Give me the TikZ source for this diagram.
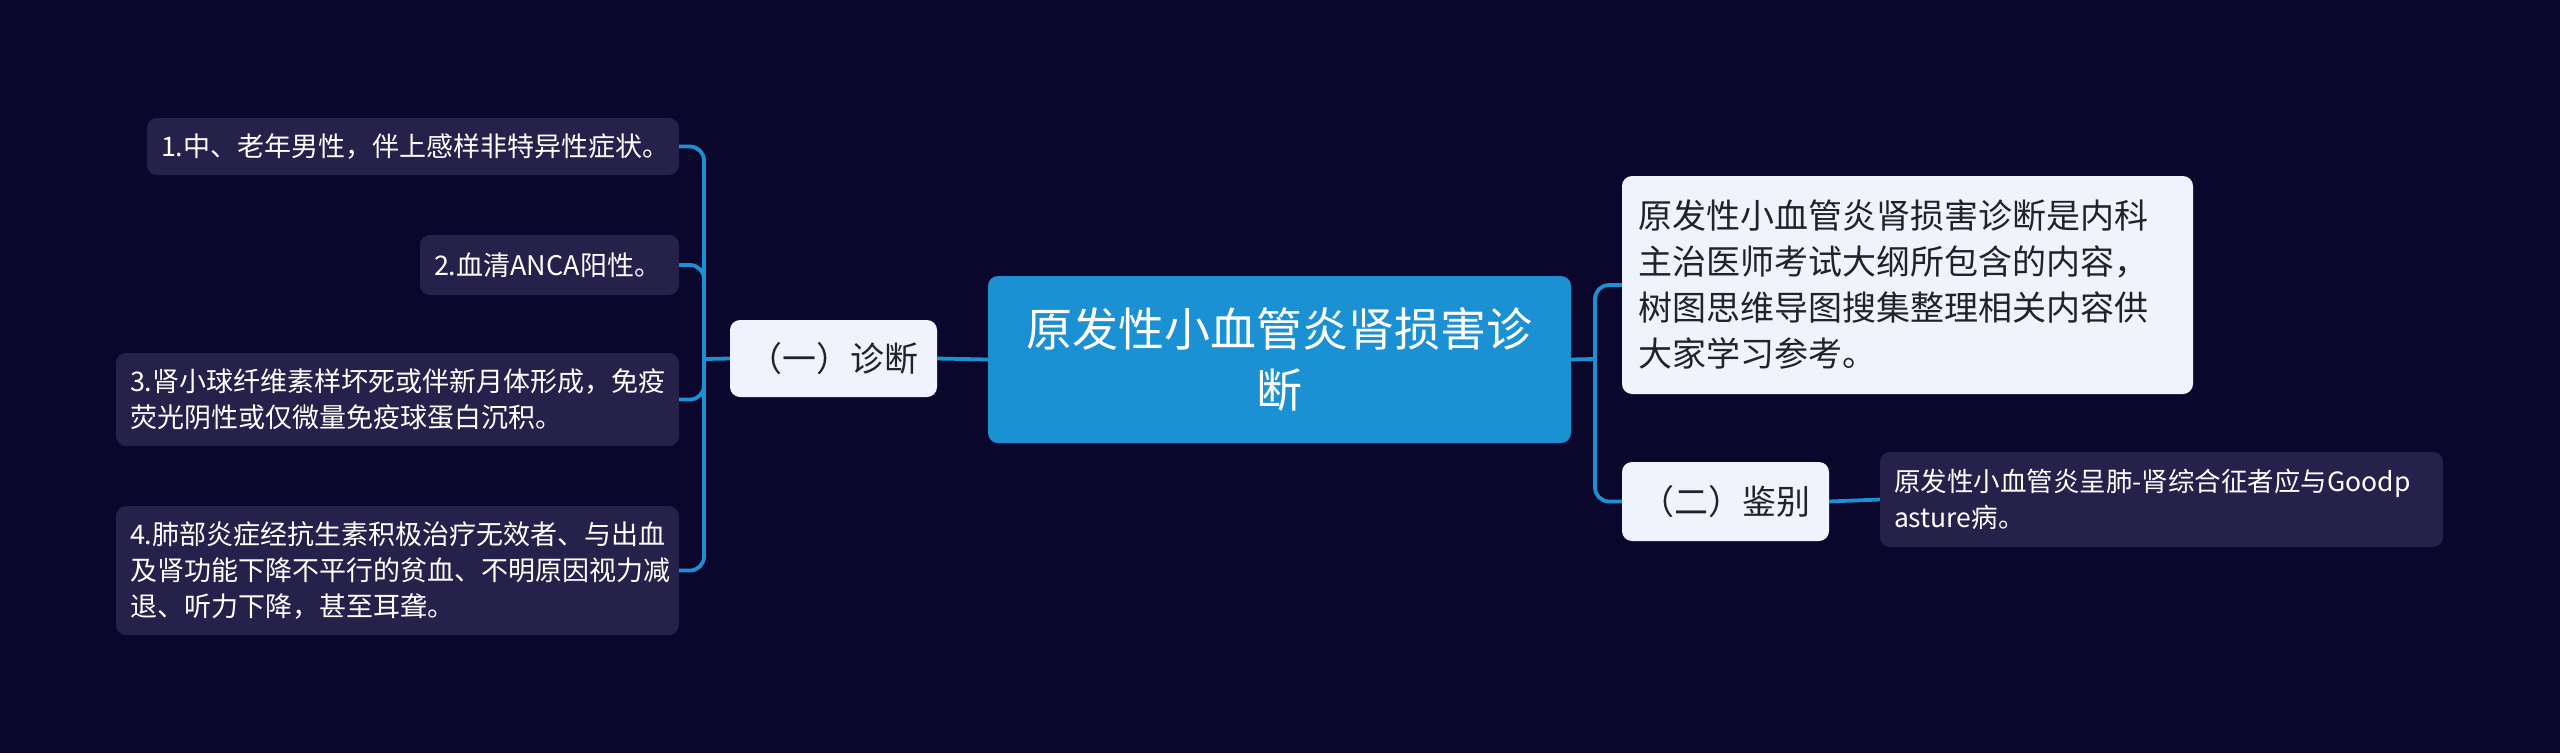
\documentclass[tikz,border=0pt]{standalone}
\usepackage{fontspec}
\setmainfont{Noto Sans CJK SC}
\definecolor{bgc}{RGB}{11,7,44}
\definecolor{leafc}{RGB}{38,33,74}
\definecolor{lightc}{RGB}{238,243,253}
\definecolor{bluec}{RGB}{27,144,210}
\definecolor{darkt}{RGB}{34,34,40}
\begin{document}
\begin{tikzpicture}[x=1pt,y=-1pt,
  box/.style={anchor=north west, rounded corners=10pt, inner ysep=0pt, outer sep=0pt},
  leaf/.style={box, fill=leafc, text=white, inner xsep=14pt, align=left,
    font=\fontsize{27}{36}\selectfont},
  light/.style={box, fill=lightc, text=darkt},
  conn/.style={draw=bluec, line width=3.8pt, rounded corners=14pt}]
\fill[bgc] (0,0) rectangle (2560,753);
\useasboundingbox (0,0) rectangle (2560,753);

% center
\node[box, fill=bluec, text=white, align=center, minimum width=583pt, minimum height=167pt,
  font=\fontsize{46}{61}\selectfont] (c) at (988,276) {原发性小血管炎肾损害诊\\断};

% level 1
\node[light, minimum width=207pt, minimum height=77pt, align=center,
  font=\fontsize{34}{42}\selectfont] (d1) at (730,320) {（一）诊断};
\node[light, minimum width=207pt, minimum height=79pt, align=center,
  font=\fontsize{34}{42}\selectfont] (d2) at (1622,462) {（二）鉴别};
\node[light, text width=539pt, inner xsep=16pt, minimum height=218pt, align=left,
  font=\fontsize{34}{46}\selectfont] (desc) at (1622,176)
  {原发性小血管炎肾损害诊断是内科\\主治医师考试大纲所包含的内容，\\树图思维导图搜集整理相关内容供\\大家学习参考。};

% leaves left
\node[leaf, text width=504pt, minimum height=57pt] (n1) at (147,118) {1.中、老年男性，伴上感样非特异性症状。};
\node[leaf, text width=231pt, minimum height=60pt] (n2) at (420,235) {2.血清ANCA阳性。};
\node[leaf, text width=535pt, minimum height=93pt] (n3) at (116,353) {3.肾小球纤维素样坏死或伴新月体形成，免疫\\荧光阴性或仅微量免疫球蛋白沉积。};
\node[leaf, text width=535pt, minimum height=129pt] (n4) at (116,506) {4.肺部炎症经抗生素积极治疗无效者、与出血\\及肾功能下降不平行的贫血、不明原因视力减\\退、听力下降，甚至耳聋。};

% leaf right
\node[leaf, text width=535pt, minimum height=95pt, font=\fontsize{26.5}{36}\selectfont] (r1) at (1880,452) {原发性小血管炎呈肺-肾综合征者应与Goodp\\asture病。};

% connectors
\coordinate (bl) at (704,359);
\coordinate (br) at (1595,359);
\draw[conn] (c.west) -- (d1.east);
\draw[conn, rounded corners=0pt] (d1.west) -- (bl);
\draw[conn] (bl) |- (n1.east);
\draw[conn] (bl) |- (n2.east);
\draw[conn] (bl) |- (n3.east);
\draw[conn] (bl) |- (n4.east);
\draw[conn, rounded corners=0pt] (c.east) -- (br);
\draw[conn] (br) |- (desc.west);
\draw[conn] (br) |- (d2.west);
\draw[conn] (d2.east) -- (r1.west);
\end{tikzpicture}
\end{document}
